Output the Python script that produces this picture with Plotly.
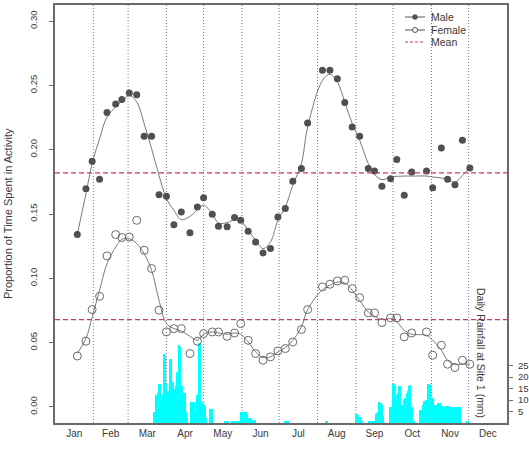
import plotly.graph_objects as go

# ---------------- data ----------------
sample_day = [18, 25, 30, 36, 42, 49, 54, 60, 66, 72, 78, 84, 90, 96, 102, 109, 115, 120, 127, 132,
              139, 145, 150, 156, 162, 168, 174, 180, 186, 192, 199, 204, 216, 222, 228, 234, 240, 246,
              253, 258, 264, 271, 276, 282, 288, 300, 305, 312, 317, 323, 329, 335]

male_val = [0.134, 0.1697, 0.191, 0.177, 0.229, 0.2355, 0.239, 0.244, 0.2428, 0.2104, 0.2104, 0.165,
            0.1638, 0.1417, 0.1516, 0.1355, 0.1554, 0.1627, 0.1498, 0.1404, 0.140, 0.1472, 0.1451,
            0.1365, 0.1282, 0.1197, 0.1231, 0.1477, 0.1542, 0.1754, 0.1853, 0.2207, 0.2617, 0.2617,
            0.2552, 0.2366, 0.2176, 0.2104, 0.1853, 0.1834, 0.1715, 0.1775, 0.1923, 0.1645, 0.1826,
            0.1834, 0.1705, 0.2013, 0.177, 0.1728, 0.2073, 0.1858]

male_fit = [0.134, 0.1658, 0.1892, 0.2086, 0.2254, 0.2332, 0.2378, 0.242, 0.237, 0.2203, 0.2008, 0.18,
            0.162, 0.1529, 0.1456, 0.1482, 0.1534, 0.1568, 0.1503, 0.143, 0.1433, 0.1456, 0.1446,
            0.1373, 0.1296, 0.1231, 0.1282, 0.1451, 0.1554, 0.1723, 0.1892, 0.2176, 0.2539, 0.2586,
            0.2526, 0.237, 0.2203, 0.2073, 0.1892, 0.1808, 0.1767, 0.1788, 0.1793, 0.1795, 0.1795,
            0.1795, 0.1788, 0.178, 0.1767, 0.1746, 0.18, 0.1858]

female_val = [0.0396, 0.0511, 0.0757, 0.086, 0.1174, 0.134, 0.1317, 0.1321, 0.1451, 0.1218, 0.1076,
              0.0752, 0.0583, 0.0609, 0.0609, 0.0415, 0.0511, 0.057, 0.0583, 0.0583, 0.0549, 0.0575,
              0.0648, 0.0518, 0.0415, 0.0363, 0.0389, 0.0435, 0.0454, 0.0505, 0.0602, 0.0757, 0.0933,
              0.0954, 0.0979, 0.0985, 0.092, 0.085, 0.0731, 0.0731, 0.0656, 0.0692, 0.0692, 0.0544,
              0.0575, 0.0583, 0.0402, 0.048, 0.0332, 0.0306, 0.0363, 0.0332]

female_fit = [0.0415, 0.0532, 0.07, 0.0907, 0.1114, 0.1243, 0.1303, 0.1309, 0.127, 0.1192, 0.1062,
              0.0829, 0.0648, 0.0609, 0.0591, 0.0549, 0.0518, 0.0565, 0.0583, 0.0575, 0.0565, 0.0575,
              0.0565, 0.0505, 0.0427, 0.0384, 0.0389, 0.0427, 0.0462, 0.0518, 0.0622, 0.0757, 0.0912,
              0.0946, 0.0971, 0.0964, 0.0907, 0.0829, 0.0738, 0.0705, 0.0679, 0.0687, 0.0661, 0.0596,
              0.0565, 0.0557, 0.0518, 0.0441, 0.0363, 0.0332, 0.0332, 0.0332]

male_mean = 0.1819
female_mean = 0.0679

rain_day = [80, 81, 82, 83, 84, 85, 86, 87, 88, 89, 90, 91, 92, 93, 94, 95, 96, 97, 98, 99, 100, 101,
            102, 103, 104, 105, 106, 107, 110, 111, 112, 113, 114, 115, 116, 117, 118, 119, 120, 121,
            122, 125, 126, 127,
            137, 138, 140, 143, 144, 145, 146, 147, 148, 149, 150, 151, 152, 153, 154, 155, 156, 157,
            158, 159, 160, 161, 162,
            186, 187, 188, 219, 220,
            243, 244, 245, 246, 247, 248, 254, 255, 256, 257, 258, 259, 260, 261, 262, 263, 264, 265,
            271, 272, 273, 274, 275, 276, 277, 278, 279, 280, 281, 282, 283, 284, 285, 286, 287, 288,
            289, 290,
            295, 296, 297, 298, 299, 300, 301, 302, 303, 304, 305, 306, 307, 308, 309, 310, 311, 312,
            313, 314, 315, 316, 317, 318, 319, 320, 321, 322, 323, 324, 325, 326, 327,
            333, 334]
rain_mm = [5, 5, 12, 13, 17, 17, 10, 12, 30, 29, 17, 14, 8, 28, 28, 18, 15, 11, 16, 22, 34, 33,
           13, 16, 13, 13, 5, 2, 9, 9, 9, 5, 3, 12, 35, 35, 5, 9, 8, 8,
           2, 6, 6, 6,
           0.5, 0.5, 0.6, 1, 1, 1, 1, 0.8, 1, 1, 5, 5, 5, 5, 5, 4, 2, 2,
           2, 1.5, 1.5, 1.5, 1.5,
           0.8, 0.8, 0.6, 1, 1,
           4, 4, 3.5, 2.5, 2, 1, 0.6, 0.6, 0.6, 0.6, 0.6, 4, 4.5, 5, 9, 8.5, 8, 3,
           7, 7, 17, 17, 16, 12, 13, 16, 16, 8, 8, 10, 11, 13, 14, 16, 16.5, 7,
           1, 1,
           5.5, 5.5, 8, 9.7, 9.7, 10, 16.8, 16.8, 16.5, 11, 11, 7.6, 8, 8, 8.7, 8.7, 8.5, 7.6,
           7.6, 7.1, 7.1, 7.6, 7.6, 7.4, 7.1, 7.1, 7.1, 7.1, 7.1, 7, 6.8, 6.8, 6.8,
           0.6, 0.6]

month_labels = ["Jan", "Feb", "Mar", "Apr", "May", "Jun", "Jul", "Aug", "Sep", "Oct", "Nov", "Dec"]
month_mid = [15.5, 45, 74.5, 105, 135.5, 166, 196.5, 227.5, 258, 288.5, 319, 349.5]
month_start = [31, 59, 90, 120, 151, 181, 212, 243, 273, 304, 334]
rain_ticks = [5, 10, 15, 20, 25]

# ---------------- style ----------------
FONT = "Liberation Sans, Arial, sans-serif"
TXT = "#3a3a3a"
MALE_C = "#505050"
FEM_C = "#6a6a6a"
FIT_C = "#7a7a7a"
MEAN_C = "#C83C50"
VLINE_C = "#7878b0"
BOX_C = "#6a6a6a"

W, H = 529, 451
ML, MR, MT, MB = 55, 22, 5, 28
PW = W - ML - MR
PH = H - MT - MB


def px(xp):
    return (xp - ML) / PW


def py(yp):
    return (H - MB - yp) / PH


fig = go.Figure()

# rainfall bars (primary y, right side)
fig.add_trace(go.Bar(x=rain_day, y=rain_mm, width=1.0, marker=dict(color="#00FFFF", line=dict(width=0)),
                     yaxis="y", showlegend=False, hoverinfo="skip"))

# fitted lines
fig.add_trace(go.Scatter(x=sample_day, y=male_fit, mode="lines", line=dict(color=FIT_C, width=1, shape="spline"),
                         yaxis="y2", showlegend=False))
fig.add_trace(go.Scatter(x=sample_day, y=female_fit, mode="lines", line=dict(color=FIT_C, width=1, shape="spline"),
                         yaxis="y2", showlegend=False))
# points
fig.add_trace(go.Scatter(x=sample_day, y=male_val, mode="markers",
                         marker=dict(symbol="circle", size=7, color=MALE_C, line=dict(width=0)),
                         yaxis="y2", showlegend=False))
fig.add_trace(go.Scatter(x=sample_day, y=female_val, mode="markers",
                         marker=dict(symbol="circle-open", size=8, color=FEM_C, line=dict(width=1)),
                         yaxis="y2", showlegend=False))

shapes = []
for d in month_start:
    shapes.append(dict(type="line", xref="x", yref="paper", x0=d, x1=d, y0=0, y1=1,
                       line=dict(color=VLINE_C, width=1, dash="1px,2px"), layer="below"))
for m in (male_mean, female_mean):
    shapes.append(dict(type="line", xref="paper", yref="y2", x0=0, x1=1, y0=m, y1=m,
                       line=dict(color=MEAN_C, width=1.2, dash="5px,3px")))

# legend (manual)
lx0, lx1 = px(405), px(425)
lxc = (lx0 + lx1) / 2
ly = [py(17), py(30), py(42)]
shapes.append(dict(type="line", xref="paper", yref="paper", x0=lx0, x1=lx1, y0=ly[0], y1=ly[0],
                   line=dict(color="#555555", width=1)))
shapes.append(dict(type="circle", xref="paper", yref="paper", xsizemode="pixel", ysizemode="pixel",
                   xanchor=lxc, yanchor=ly[0], x0=-2.5, x1=2.5, y0=-2.5, y1=2.5,
                   fillcolor=MALE_C, line=dict(color=MALE_C, width=0.5)))
shapes.append(dict(type="line", xref="paper", yref="paper", x0=lx0, x1=lx1, y0=ly[1], y1=ly[1],
                   line=dict(color="#555555", width=1)))
shapes.append(dict(type="circle", xref="paper", yref="paper", xsizemode="pixel", ysizemode="pixel",
                   xanchor=lxc, yanchor=ly[1], x0=-2.5, x1=2.5, y0=-2.5, y1=2.5,
                   fillcolor="white", line=dict(color="#555555", width=1)))
shapes.append(dict(type="line", xref="paper", yref="paper", x0=lx0, x1=lx1, y0=ly[2], y1=ly[2],
                   line=dict(color=MEAN_C, width=1, dash="3px,2px")))

annotations = []
for t, yy in zip(["Male", "Female", "Mean"], ly):
    annotations.append(dict(text=t, xref="paper", yref="paper", x=px(429), y=yy, xanchor="left",
                            yanchor="middle", showarrow=False, font=dict(family=FONT, size=10.5, color=TXT)))

annotations.append(dict(text="Proportion of Time Spent in Activity", xref="paper", yref="paper",
                        x=px(8), y=py(214), xanchor="center", yanchor="middle", textangle=-90,
                        showarrow=False, font=dict(family=FONT, size=11, color=TXT)))
annotations.append(dict(text="Daily Rainfall at Site 1 (mm)", xref="paper", yref="paper",
                        x=px(481), y=py(353), xanchor="center", yanchor="middle", textangle=90,
                        showarrow=False, font=dict(family=FONT, size=10.5, color=TXT)))

fig.update_layout(
    width=W, height=H,
    margin=dict(l=ML, r=MR, t=MT, b=MB, autoexpand=False),
    paper_bgcolor="white", plot_bgcolor="white",
    showlegend=False,
    bargap=0,
    font=dict(family=FONT, color=TXT),
    xaxis=dict(range=[0, 365], tickmode="array", tickvals=month_mid, ticktext=month_labels,
               ticks="", showgrid=False, zeroline=False, showline=True, mirror=True,
               linecolor=BOX_C, linewidth=1.5, tickfont=dict(size=10, color=TXT)),
    yaxis=dict(range=[0, PH / 2.3], side="right", tickmode="array", tickvals=rain_ticks,
               ticks="outside", ticklen=5, tickcolor=BOX_C, showgrid=False, zeroline=False,
               showline=False, tickfont=dict(size=9.5, color=TXT), automargin=False,
               ticklabelstandoff=3),
    yaxis2=dict(range=[-0.0125, 0.3125], overlaying="y", side="left", tickmode="array",
                tickvals=[0, 0.05, 0.1, 0.15, 0.2, 0.25, 0.3],
                ticktext=["0.00", "0.05", "0.10", "0.15", "0.20", "0.25", "0.30"],
                tickangle=-90, ticks="outside", ticklen=4, tickcolor=BOX_C,
                showgrid=False, zeroline=False, showline=True, mirror=True,
                linecolor=BOX_C, linewidth=1.5, tickfont=dict(size=9.5, color=TXT), automargin=False,
                ticklabelstandoff=8),
    shapes=shapes,
    annotations=annotations,
)

fig.write_html("out.html")
